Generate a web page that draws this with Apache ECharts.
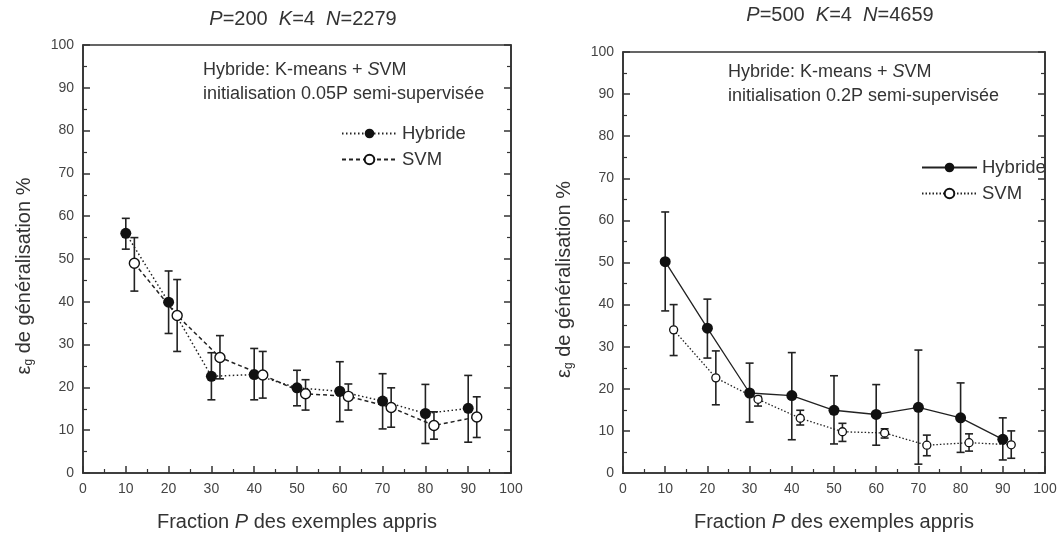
<!DOCTYPE html>
<html>
<head>
<meta charset="utf-8">
<script src="https://cdn.jsdelivr.net/npm/echarts@6/dist/echarts.min.js"></script>
<style>
html, body { margin: 0; padding: 0; background: #fff; }
#chart { width: 1062px; height: 537px; }
</style>
</head>
<body>
<div id="chart"></div>
<script>
// tick labels
var xTicks = [0, 10, 20, 30, 40, 50, 60, 70, 80, 90, 100];

// panneau gauche : P=200
var leftHybX = [10, 20, 30, 40, 50, 60, 70, 80, 90];
var leftHyb = [56.0, 39.9, 22.6, 23.0, 19.9, 19.1, 16.8, 13.9, 15.1];
var leftHybLow = [52.3, 32.6, 17.1, 17.1, 15.7, 12.0, 10.3, 6.9, 7.2];
var leftHybHigh = [59.5, 47.2, 28.1, 29.1, 24.0, 26.0, 23.2, 20.7, 22.8];
var leftSvmX = [12, 22, 32, 42, 52, 62, 72, 82, 92];
var leftSvm = [49.0, 36.8, 27.0, 22.9, 18.5, 17.9, 15.3, 11.1, 13.1];
var leftSvmLow = [42.5, 28.4, 22.0, 17.5, 14.7, 14.7, 10.7, 7.9, 8.3];
var leftSvmHigh = [55.0, 45.2, 32.1, 28.4, 21.8, 20.8, 19.9, 14.3, 17.8];

// panneau droit : P=500
var rightHybX = [10, 20, 30, 40, 50, 60, 70, 80, 90];
var rightHyb = [50.2, 34.4, 19.0, 18.4, 14.9, 13.9, 15.6, 13.1, 8.0];
var rightHybLow = [38.5, 27.3, 12.1, 7.9, 6.9, 6.6, 2.1, 4.9, 3.1];
var rightHybHigh = [62.0, 41.3, 26.1, 28.6, 23.1, 21.0, 29.2, 21.4, 13.1];
var rightSvmX = [12, 22, 32, 42, 52, 62, 72, 82, 92];
var rightSvm = [34.0, 22.6, 17.5, 13.0, 9.8, 9.5, 6.6, 7.2, 6.7];
var rightSvmLow = [27.9, 16.2, 15.9, 11.4, 7.5, 8.3, 4.1, 5.2, 3.5];
var rightSvmHigh = [40.0, 29.0, 18.2, 14.9, 11.8, 10.5, 9.0, 9.3, 10.0];

var FONT = '"Liberation Sans", Arial, sans-serif';
var AX = '#333';

function pairs(xs, ys) {
    return xs.map(function (x, i) { return [x, ys[i]]; });
}
function triples(xs, lo, hi) {
    return xs.map(function (x, i) { return [x, lo[i], hi[i]]; });
}

function errorBars(gi, xs, lo, hi) {
    return {
        type: 'custom',
        xAxisIndex: gi,
        yAxisIndex: gi * 2,
        z: 1,
        silent: true,
        data: triples(xs, lo, hi),
        renderItem: function (params, api) {
            var a = api.coord([api.value(0), api.value(1)]);
            var b = api.coord([api.value(0), api.value(2)]);
            var w = 4;
            var st = { stroke: '#222', lineWidth: 1.6 };
            return {
                type: 'group',
                children: [
                    { type: 'line', shape: { x1: a[0], y1: a[1], x2: b[0], y2: b[1] }, style: st },
                    { type: 'line', shape: { x1: a[0] - w, y1: a[1], x2: a[0] + w, y2: a[1] }, style: st },
                    { type: 'line', shape: { x1: b[0] - w, y1: b[1], x2: b[0] + w, y2: b[1] }, style: st }
                ]
            };
        }
    };
}

function xAxisFor(gi) {
    return {
        gridIndex: gi,
        type: 'value',
        min: 0, max: 100, interval: 10,
        axisLine: { lineStyle: { color: AX, width: 1.6 } },
        axisTick: { inside: true, length: 7, lineStyle: { color: AX, width: 1.5 } },
        minorTick: { show: true, splitNumber: 2, length: 4, lineStyle: { color: AX, width: 1.2 } },
        splitLine: { show: false },
        axisLabel: { color: '#444', fontSize: 14, fontFamily: FONT, margin: 9 },
        name: 'Fraction {i|P} des exemples appris',
        nameLocation: 'middle',
        nameGap: 39,
        nameTextStyle: {
            color: '#333', fontSize: 20, fontFamily: FONT,
            rich: { i: { fontStyle: 'italic', fontSize: 20, fontFamily: FONT, color: '#333' } }
        }
    };
}

function yAxesFor(gi) {
    var common = {
        gridIndex: gi,
        type: 'value',
        min: 0, max: 100, interval: 10,
        axisLine: { show: true, lineStyle: { color: AX, width: 1.6 } },
        axisTick: { inside: true, length: 7, lineStyle: { color: AX, width: 1.5 } },
        minorTick: { show: true, splitNumber: 2, length: 4, lineStyle: { color: AX, width: 1.2 } },
        splitLine: { show: false }
    };
    var left = Object.assign({}, common, {
        position: 'left',
        axisLabel: { color: '#444', fontSize: 14, fontFamily: FONT, margin: 9 },
        name: '{e|ε}{g|g}{e| de généralisation %}',
        nameLocation: 'middle',
        nameRotate: 90,
        nameGap: 48,
        nameTextStyle: {
            color: '#333', fontFamily: FONT,
            padding: [0, 34, 0, 0],
            rich: {
                e: { fontSize: 20, fontFamily: FONT, color: '#333', lineHeight: 22 },
                g: { fontSize: 12, fontFamily: FONT, color: '#333', verticalAlign: 'bottom', lineHeight: 12, padding: [14, 0, 0, 0] }
            }
        }
    });
    var right = Object.assign({}, common, {
        position: 'right',
        axisLabel: { show: false }
    });
    return [left, right];
}

var lineLeg = { itemWidth: 55, itemHeight: 12, itemGap: 7, orient: 'vertical', padding: 0,
    textStyle: { fontSize: 18.5, fontFamily: FONT, color: '#333' } };

var titleRich = { i: { fontStyle: 'italic', fontSize: 20, fontFamily: FONT, color: '#333' } };
var titleStyle = { fontSize: 20, fontFamily: FONT, color: '#333', fontWeight: 'normal', rich: titleRich };
var noteStyle = { fontSize: 18, fontFamily: FONT, color: '#333', fontWeight: 'normal', lineHeight: 24,
    rich: { i: { fontStyle: 'italic', fontSize: 18, fontFamily: FONT, color: '#333' } } };

var option = {
    animation: false,
    backgroundColor: '#fff',
    title: [
        { text: '{i|P}=200  {i|K}=4  {i|N}=2279', left: 303, top: 9, padding: 0, textAlign: 'center', textStyle: titleStyle },
        { text: '{i|P}=500  {i|K}=4  {i|N}=4659', left: 840, top: 5, padding: 0, textAlign: 'center', textStyle: titleStyle },
        { text: 'Hybride: K-means + {i|S}VM\ninitialisation 0.05P semi-supervisée', left: 203, top: 58, padding: 0, textStyle: noteStyle },
        { text: 'Hybride: K-means + {i|S}VM\ninitialisation 0.2P semi-supervisée', left: 728, top: 60, padding: 0, textStyle: noteStyle }
    ],
    legend: [
        Object.assign({ left: 341, top: 124, data: ['Hybride', 'SVM'] }, lineLeg),
        Object.assign({ left: 921, top: 158, data: ['Hybride ', 'SVM '] }, lineLeg)
    ],
    grid: [
        { left: 83, top: 45, width: 428, height: 428, show: true, borderColor: AX, borderWidth: 1.6 },
        { left: 623, top: 52, width: 422, height: 421, show: true, borderColor: AX, borderWidth: 1.6 }
    ],
    xAxis: [xAxisFor(0), xAxisFor(1)],
    yAxis: yAxesFor(0).concat(yAxesFor(1)),
    series: [
        errorBars(0, leftHybX, leftHybLow, leftHybHigh),
        errorBars(0, leftSvmX, leftSvmLow, leftSvmHigh),
        {
            name: 'Hybride', type: 'line', xAxisIndex: 0, yAxisIndex: 0, z: 3,
            data: pairs(leftHybX, leftHyb),
            symbol: 'circle', symbolSize: 11,
            itemStyle: { color: '#111' },
            lineStyle: { color: '#222', width: 1.5, type: [1.5, 2.5] }
        },
        {
            name: 'SVM', type: 'line', xAxisIndex: 0, yAxisIndex: 0, z: 3,
            data: pairs(leftSvmX, leftSvm),
            symbol: 'circle', symbolSize: 10,
            itemStyle: { color: '#fff', borderColor: '#111', borderWidth: 1.4 },
            lineStyle: { color: '#222', width: 1.5, type: [4, 3] }
        },
        errorBars(1, rightHybX, rightHybLow, rightHybHigh),
        errorBars(1, rightSvmX, rightSvmLow, rightSvmHigh),
        {
            name: 'Hybride ', type: 'line', xAxisIndex: 1, yAxisIndex: 2, z: 3,
            data: pairs(rightHybX, rightHyb),
            symbol: 'circle', symbolSize: 11,
            itemStyle: { color: '#111' },
            lineStyle: { color: '#222', width: 1.3, type: 'solid' }
        },
        {
            name: 'SVM ', type: 'line', xAxisIndex: 1, yAxisIndex: 2, z: 3,
            data: pairs(rightSvmX, rightSvm),
            symbol: 'circle', symbolSize: 8,
            itemStyle: { color: '#fff', borderColor: '#111', borderWidth: 1.3 },
            lineStyle: { color: '#222', width: 1.3, type: [1.5, 2] }
        }
    ]
};

var myChart = echarts.init(document.getElementById('chart'));
myChart.setOption(option);
</script>
</body>
</html>
